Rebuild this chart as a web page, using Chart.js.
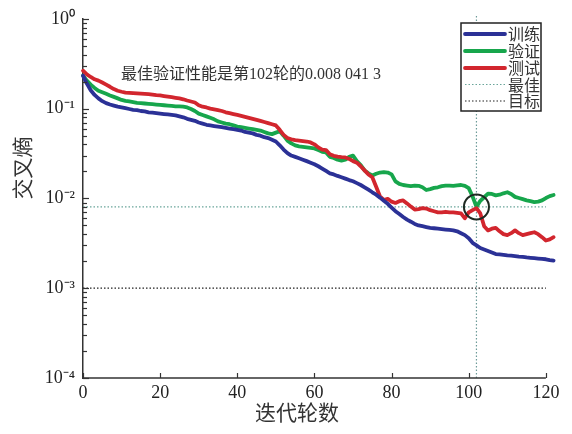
<!DOCTYPE html>
<html>
<head>
<meta charset="utf-8">
<script src="https://cdn.jsdelivr.net/npm/chart.js@4.4.1/dist/chart.umd.min.js"></script>
<style>
html,body{margin:0;padding:0;background:#fff;}
#wrap{width:572px;height:434px;position:relative;}
</style>
</head>
<body>
<div id="wrap"><canvas id="c" width="572" height="434"></canvas></div>
<script>
// ---- data ----
const epochs = Array.from({length:123}, (_, i) => i);
const seriesNames = ['训练', '验证', '测试', '最佳', '目标'];
const trainLoss = [
.233,.19,.16,.142,.13,.121,.115,.111,.108,.105,
.103,.101,.099,.097,.096,.094,.093,.091,.09,.089,
.088,.087,.086,.085,.084,.082,.080,.077,.075,.073,
.070,.068,.066,.065,.064,.063,.062,.061,.060,.059,
.058,.057,.055,.054,.053,.051,.050,.048,.047,.045,
.043,.039,.035,.032,.030,.029,.028,.027,.026,.025,
.024,.0228,.0215,.0202,.019,.0185,.0178,.0172,.0166,.016,
.0155,.0148,.0141,.0133,.0125,.0117,.011,.0102,.0094,.0087,
.0079,.0072,.0067,.0062,.0058,.0055,.0052,.005,.0049,.0048,
.0047,.00465,.0046,.00455,.0045,.00445,.0044,.0043,.0041,.0039,
.0036,.0032,.003,.0028,.0027,.0026,.0025,.0024,.00238,.00235,
.00232,.0023,.00228,.00225,.00223,.0022,.00218,.00216,.00214,.00212,
.0021,.00206,.00203];
const valLoss = [
.233,.205,.185,.17,.158,.152,.146,.14,.135,.13,
.125,.122,.12,.118,.116,.115,.114,.113,.112,.111,
.11,.109,.108,.107,.106,.106,.105,.103,.099,.094,
.088,.085,.082,.079,.076,.072,.07,.068,.067,.065,
.063,.062,.061,.060,.059,.058,.057,.055,.053,.052,
.054,.056,.05,.044,.041,.039,.038,.0375,.037,.0365,
.036,.0345,.033,.0325,.029,.0282,.027,.0264,.027,.029,
.030,.026,.0235,.0205,.019,.018,.0188,.0194,.0196,.0194,
.0185,.0155,.0145,.0141,.0139,.0137,.0139,.0138,.0133,.0124,
.0127,.0131,.0133,.0137,.0139,.0139,.0138,.014,.0141,.0138,
.013,.0105,.0080413,.0094,.0103,.0113,.0112,.0108,.011,.0114,
.0117,.0112,.0104,.0101,.0098,.0095,.0093,.0091,.0092,.0095,
.0101,.0106,.0109];
const testLoss = [
.264,.24,.225,.212,.205,.195,.185,.175,.165,.158,
.154,.151,.15,.149,.148,.147,.146,.145,.143,.141,
.14,.138,.136,.134,.132,.13,.127,.123,.12,.117,
.109,.105,.103,.1,.098,.096,.094,.091,.089,.087,
.085,.083,.081,.079,.077,.075,.073,.071,.069,.067,
.065,.058,.051,.047,.0455,.0445,.044,.0435,.043,.042,
.04,.037,.035,.0345,.031,.0298,.0292,.0288,.0286,.0275,
.026,.025,.0228,.0205,.0185,.0172,.0135,.0105,.0096,.0099,
.0092,.0089,.0093,.0095,.0088,.0081,.0075,.0076,.0078,.0077,
.0074,.0072,.007,.007,.0071,.007,.007,.0069,.0068,.006,
.007,.0074,.0078,.0068,.0049,.0044,.0046,.0047,.0043,.004,
.0039,.0041,.0044,.0041,.0039,.004,.0041,.0042,.004,.0037,
.0034,.0035,.0037];
const bestEpoch = 102;
const bestValue = 0.0080413;
const goalValue = 0.001;
const xTicks = [0, 20, 40, 60, 80, 100, 120];
const yTickLabels = {'0':'10⁰','-1':'10⁻¹','-2':'10⁻²','-3':'10⁻³','-4':'10⁻⁴'};
const annotationText = '最佳验证性能是第102轮的0.008 041 3';
const xTitle = '迭代轮数';
const yTitle = '交叉熵';

// ---- styles ----
const C_TRAIN = '#2b3196', C_VAL = '#17a64c', C_TEST = '#d2262e';
const C_BEST = '#6aa59a', C_VLINE = '#6d9a98', C_GOAL = '#222';
const SERIF = "'Liberation Serif','Noto Sans CJK SC'";
const CJK = "'Noto Sans CJK SC'";

const pts = arr => arr.map((v, i) => ({x: epochs[i], y: v}));
const line = (label, data, color, order) => ({
  label, data, borderColor: color, backgroundColor: color, borderWidth: 3.8,
  pointRadius: 0, tension: 0, order, clip: false, borderJoinStyle: 'round', borderCapStyle: 'round'
});

const overlay = {
  id: 'overlay',
  afterDraw(chart) {
    const ctx = chart.ctx, xs = chart.scales.x, ys = chart.scales.y;
    const ca = chart.chartArea;
    ctx.save();
    // x axis line from first to last tick
    ctx.strokeStyle = '#333'; ctx.lineWidth = 1.5;
    const x0 = xs.getPixelForValue(xTicks[0]), x1 = xs.getPixelForValue(xTicks[xTicks.length - 1]);
    ctx.beginPath(); ctx.moveTo(x0 - 0.75, ca.bottom); ctx.lineTo(x1, ca.bottom); ctx.stroke();
    ctx.lineWidth = 1.2;
    // inward x ticks
    xTicks.forEach(t => {
      const px = Math.round(xs.getPixelForValue(t)) + 0.5;
      ctx.beginPath(); ctx.moveTo(px, ca.bottom); ctx.lineTo(px, ca.bottom - 5); ctx.stroke();
    });
    // inward y ticks (log)
    for (let d = -4; d <= 0; d++) {
      for (let k = 1; k <= 9; k++) {
        const v = k * Math.pow(10, d);
        if (v > 1.0000001) break;
        const py = Math.round(ys.getPixelForValue(v)) + 0.5;
        const len = k === 1 ? 6 : 4;
        ctx.beginPath(); ctx.moveTo(ca.left, py); ctx.lineTo(ca.left + len, py); ctx.stroke();
      }
    }
    // annotation
    ctx.fillStyle = '#333';
    ctx.font = '16px ' + SERIF;
    ctx.textAlign = 'left'; ctx.textBaseline = 'middle';
    ctx.fillText(annotationText, 121, 75);
    // axis titles
    ctx.font = '21px ' + CJK;
    ctx.textAlign = 'center';
    ctx.fillText(xTitle, 297, 412);
    ctx.save();
    ctx.translate(22, 168); ctx.rotate(-Math.PI / 2);
    ctx.fillText(yTitle, 0, 0);
    ctx.restore();
    // legend
    const lx = 461, ly = 23, lw = 80, lh = 88;
    ctx.fillStyle = '#fff'; ctx.fillRect(lx, ly, lw, lh);
    ctx.strokeStyle = '#222'; ctx.lineWidth = 1.5; ctx.strokeRect(lx, ly, lw, lh);
    const ds = chart.data.datasets;
    const entries = [
      {ds: ds[0], y: 34}, {ds: ds[1], y: 51}, {ds: ds[2], y: 68}, {ds: ds[3], y: 84.5}, {ds: ds[5], y: 101}
    ];
    entries.forEach(e => {
      ctx.save();
      ctx.strokeStyle = e.ds.borderColor;
      ctx.lineWidth = e.ds.borderDash ? 1.2 : 3.8;
      ctx.lineCap = e.ds.borderDash ? 'butt' : 'round';
      ctx.setLineDash(e.ds.borderDash || []);
      ctx.beginPath(); ctx.moveTo(465, e.y); ctx.lineTo(505, e.y); ctx.stroke();
      ctx.restore();
      ctx.fillStyle = '#333'; ctx.font = '16px ' + CJK;
      ctx.textAlign = 'left'; ctx.textBaseline = 'middle';
      ctx.fillText(e.ds.label, 508, e.y);
    });
    ctx.restore();
  }
};

new Chart(document.getElementById('c'), {
  type: 'line',
  data: {
    datasets: [
      line(seriesNames[0], pts(trainLoss), C_TRAIN, 1),
      line(seriesNames[1], pts(valLoss), C_VAL, 3),
      line(seriesNames[2], pts(testLoss), C_TEST, 2),
      {label: seriesNames[3], data: [{x: xTicks[0], y: bestValue}, {x: xTicks[xTicks.length-1], y: bestValue}],
       borderColor: C_BEST, borderWidth: 1.2, borderDash: [1.5, 2], pointRadius: 0, order: 6},
      {label: seriesNames[3], data: [{x: bestEpoch, y: 1e-4}, {x: bestEpoch, y: 1.1}],
       borderColor: C_VLINE, borderWidth: 1.2, borderDash: [1.5, 2], pointRadius: 0, order: 6, clip: false},
      {label: seriesNames[4], data: [{x: xTicks[0], y: goalValue}, {x: xTicks[xTicks.length-1], y: goalValue}],
       borderColor: C_GOAL, borderWidth: 1.2, borderDash: [1.5, 2], pointRadius: 0, order: 6},
      {label: 'circle', data: [{x: bestEpoch, y: bestValue}], showLine: false,
       pointRadius: 12.5, pointBorderWidth: 2, pointBorderColor: '#1e2a22',
       pointBackgroundColor: 'rgba(0,0,0,0)', order: 0, clip: false}
    ]
  },
  options: {
    responsive: false, animation: false, devicePixelRatio: 1,
    layout: {padding: {left: 0, right: 18.4, top: 18, bottom: 0}},
    plugins: {legend: {display: false}, tooltip: {enabled: false}, title: {display: false}},
    scales: {
      x: {
        type: 'linear', min: 0, max: 122,
        grid: {display: false, drawTicks: false},
        border: {display: false},
        afterBuildTicks: s => { s.ticks = xTicks.map(v => ({value: v})); },
        ticks: {font: {family: SERIF, size: 18}, color: '#222', padding: 4, maxRotation: 0},
        afterFit: s => { s.height = 56; }
      },
      y: {
        type: 'logarithmic', min: 1e-4, max: 1,
        grid: {display: false, drawTicks: false},
        border: {display: true, color: '#333', width: 1.5},
        afterBuildTicks: s => { s.ticks = Object.keys(yTickLabels).map(k => ({value: Math.pow(10, +k)})); },
        ticks: {
          font: {family: SERIF, size: 18}, color: '#222', padding: 8, autoSkip: false,
          callback: v => yTickLabels[String(Math.round(Math.log10(v)))] || ''
        },
        afterFit: s => { s.width = 83; }
      }
    }
  },
  plugins: [overlay]
});
</script>
</body>
</html>
